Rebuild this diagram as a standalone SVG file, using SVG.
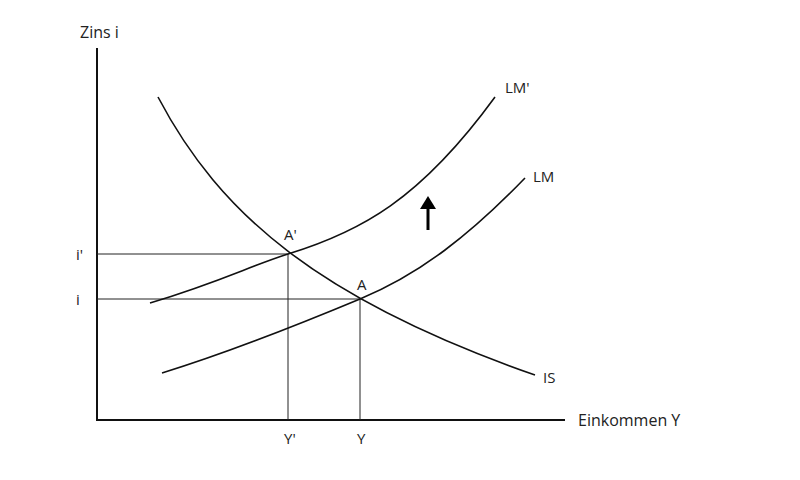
<svg xmlns="http://www.w3.org/2000/svg" width="800" height="480" viewBox="0 0 800 480">
<style>
text{font-family:"Open Sans","Liberation Sans",sans-serif;font-size:15px;fill:#222}
.ax{stroke:#111;stroke-width:2;fill:none}
.cv{stroke:#111;stroke-width:1.6;fill:none}
.gd{stroke:#222;stroke-width:1;fill:none}
</style>
<rect width="800" height="480" fill="#fff"/>
<g id="axes">
<line class="ax" x1="97" y1="48" x2="97" y2="421"/>
<line class="ax" x1="96" y1="420" x2="565" y2="420"/>
<text x="80" y="38" style="font-size:16px">Zins i</text>
<text x="578" y="426" style="font-size:16px">Einkommen Y</text>
</g>
<g id="connectors">
<line class="gd" x1="97" y1="254" x2="288" y2="254"/>
<line class="gd" x1="97" y1="299" x2="360" y2="299"/>
<line class="gd" x1="288" y1="254" x2="288" y2="420"/>
<line class="gd" x1="360" y1="299" x2="360" y2="420"/>
</g>
<g id="IS">
<path class="cv" d="M158,97 C220,215 320,300 535,375"/>
<text x="543" y="383">IS</text>
</g>
<g id="LM1">
<path class="cv" d="M150,303 C220,282 250,266 288,254 C360,232 420,200 495,97"/>
<text x="505" y="93">LM'</text>
</g>
<g id="LM">
<path class="cv" d="M162,373 C230,352 300,324 360,299 C420,274 470,235 525,178"/>
<text x="533" y="182">LM</text>
</g>
<g id="shift-arrow">
<line x1="428" y1="230" x2="428" y2="205" stroke="#000" stroke-width="3"/>
<polygon points="420,209 428,196 436,209" fill="#000"/>
</g>
<g id="labels">
<text x="284" y="240">A'</text>
<text x="357" y="290">A</text>
<text x="76" y="260">i'</text>
<text x="76" y="305">i</text>
<text x="284" y="444">Y'</text>
<text x="357" y="444">Y</text>
</g>
</svg>
